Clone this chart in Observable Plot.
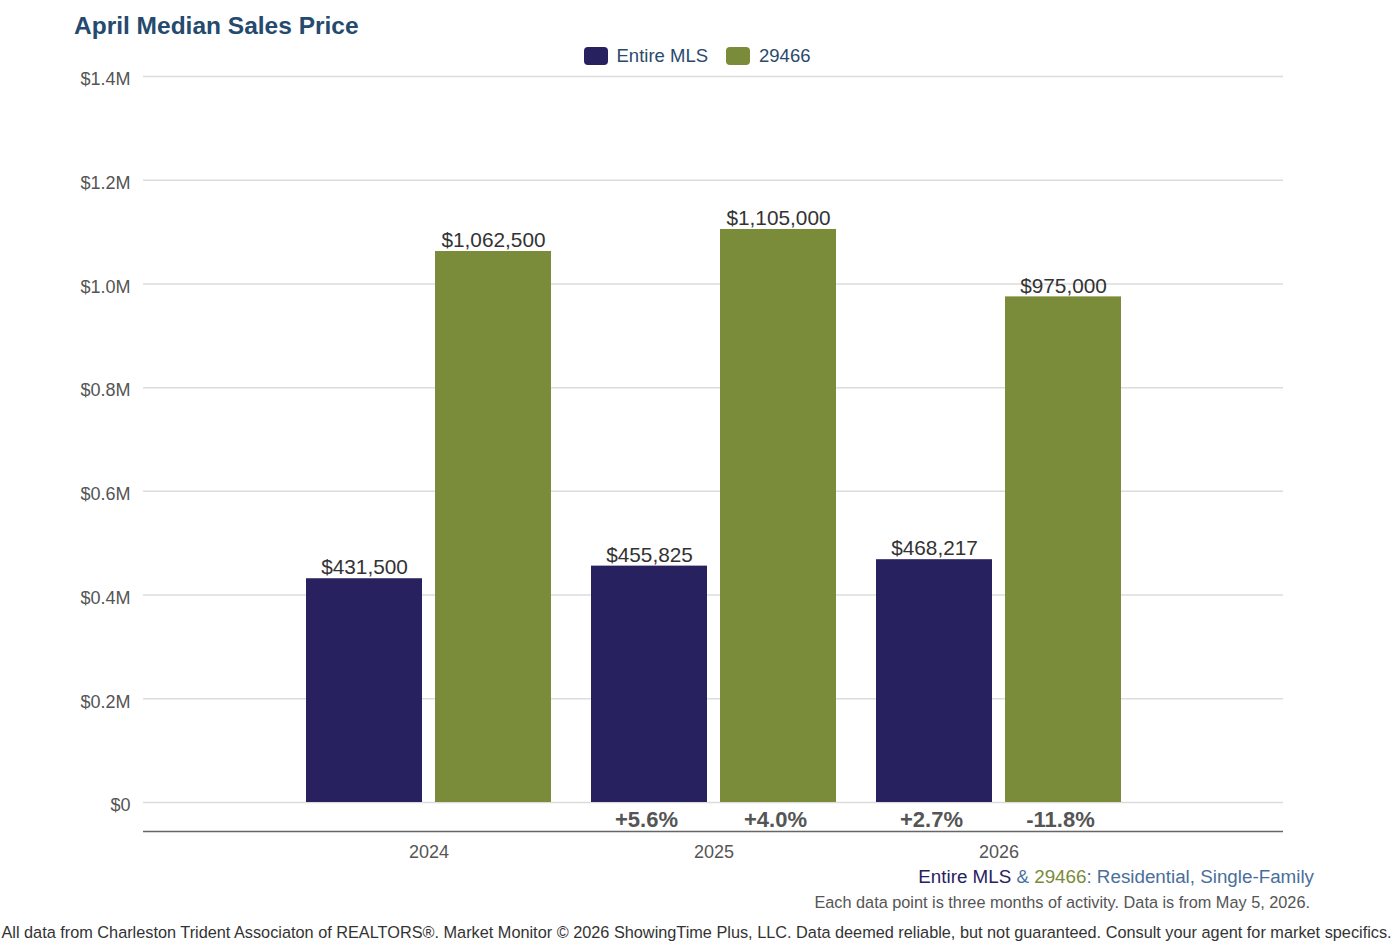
<!DOCTYPE html>
<html>
<head>
<meta charset="utf-8">
<script src="https://cdn.jsdelivr.net/npm/d3@7"></script>
<script src="https://cdn.jsdelivr.net/npm/@observablehq/plot@0.6"></script>
<style>
  html, body { margin: 0; padding: 0; background: #fff; }
  body { font-family: "Liberation Sans", Arial, Helvetica, sans-serif; }
  #page { position: relative; width: 1400px; height: 944px; overflow: hidden; }
  #chart { position: absolute; left: 0; top: 0; }
  .abs { position: absolute; line-height: 1; white-space: nowrap; }
  #title { left: 74px; top: 14px; font-size: 24.5px; font-weight: bold; color: #244a6e; }
  #legend { left: 0; top: 46px; width: 1394px; height: 20px; display: flex; justify-content: center; align-items: center; font-size: 18.5px; color: #2a4a6b; }
  #legend .item { display: flex; align-items: center; margin: 0 9px; }
  #legend .sw { width: 24px; height: 18px; border-radius: 4px; margin-right: 9px; }
  #note1 { right: 86px; top: 868px; font-size: 18.8px; color: #4a6f9a; }
  #note2 { right: 90px; top: 894px; font-size: 16.3px; color: #555; }
  #credit { left: 0; width: 1393px; top: 924px; font-size: 16.3px; color: #333; display: flex; justify-content: center; }
</style>
</head>
<body>
<div id="page">
  <div id="chart"></div>
  <div id="title" class="abs"></div>
  <div id="legend" class="abs"></div>
  <div id="note1" class="abs"></div>
  <div id="note2" class="abs"></div>
  <div id="credit" class="abs"></div>
</div>
<script>
// Median sales price for April, Entire MLS vs. ZIP 29466
const years = [2024, 2025, 2026];
const seriesNames = ["Entire MLS", "29466"];
const mlsPrice = [431500, 455825, 468217];
const zipPrice = [1062500, 1105000, 975000];
// Year-over-year change, percent
const mlsChange = [null, 5.6, 2.7];
const zipChange = [null, 4.0, -11.8];
const yTicks = [0, 200000, 400000, 600000, 800000, 1000000, 1200000, 1400000];

const navy = "#27225f";
const olive = "#7a8b3a";
const seriesColors = [navy, olive];

const titleText = "April Median Sales Price";
const subtitleText = ": Residential, Single-Family";
const noteText = "Each data point is three months of activity. Data is from May 5, 2026.";
const creditText = "All data from Charleston Trident Associaton of REALTORS®. Market Monitor © 2026 ShowingTime Plus, LLC. Data deemed reliable, but not guaranteed. Consult your agent for market specifics.";

const mls = years.map((year, i) => ({year, value: mlsPrice[i], change: mlsChange[i]}));
const zip = years.map((year, i) => ({year, value: zipPrice[i], change: zipChange[i]}));

const usd = d3.format("$,");
const pct = d => (d > 0 ? "+" : "") + d.toFixed(1) + "%";
const yFmt = d => d === 0 ? "$0" : "$" + (d / 1e6).toFixed(1) + "M";

// Each year gets one band; the two series sit side by side inside it.
const leftBar = {insetLeft: 20, insetRight: 149};
const rightBar = {insetLeft: 149, insetRight: 20};
const leftShift = -64.5, rightShift = 64.5;

const chart = Plot.plot({
  width: 1400,
  height: 870,
  marginLeft: 143,
  marginRight: 117,
  marginTop: 76,
  marginBottom: 68,
  style: {fontFamily: "'Liberation Sans', Arial, Helvetica, sans-serif", fontSize: "18px", color: "#555", background: "transparent"},
  x: {type: "band", domain: years, paddingInner: 0, paddingOuter: 0.5, label: null, tickSize: 0, tickPadding: 43, tickFormat: d => `${d}`},
  y: {domain: [0, 1400000], axis: null},
  marks: [
    Plot.ruleY(yTicks, {stroke: "#dcdcdc", strokeWidth: 1.5}),
    Plot.ruleY([0], {dy: 29, stroke: "#666", strokeWidth: 1.5}),
    Plot.text(yTicks, {y: d => d, text: yFmt, frameAnchor: "left", textAnchor: "end", dx: -13, dy: 3, fontSize: 18, fill: "#555"}),
    Plot.barY(mls, {x: "year", y: "value", fill: seriesColors[0], ...leftBar}),
    Plot.barY(zip, {x: "year", y: "value", fill: seriesColors[1], ...rightBar}),
    Plot.text(mls, {x: "year", y: "value", text: d => usd(d.value), dx: leftShift, dy: -11, fontSize: 20.8, fill: "#333"}),
    Plot.text(zip, {x: "year", y: "value", text: d => usd(d.value), dx: rightShift, dy: -11, fontSize: 20.8, fill: "#333"}),
    Plot.text(mls.filter(d => d.change != null), {x: "year", y: () => 0, text: d => pct(d.change), dx: leftShift - 3, dy: 17, fontSize: 22, fontWeight: "bold", fill: "#555"}),
    Plot.text(zip.filter(d => d.change != null), {x: "year", y: () => 0, text: d => pct(d.change), dx: rightShift - 3, dy: 17, fontSize: 22, fontWeight: "bold", fill: "#555"})
  ]
});
document.getElementById("chart").appendChild(chart);

document.getElementById("title").textContent = titleText;

const legend = document.getElementById("legend");
seriesNames.forEach((name, i) => {
  const item = document.createElement("div");
  item.className = "item";
  const sw = document.createElement("div");
  sw.className = "sw";
  sw.style.background = seriesColors[i];
  const label = document.createElement("span");
  label.textContent = name;
  item.appendChild(sw);
  item.appendChild(label);
  legend.appendChild(item);
});

const note1 = document.getElementById("note1");
const s1 = document.createElement("span"); s1.textContent = seriesNames[0]; s1.style.color = navy;
const s2 = document.createElement("span"); s2.textContent = " & ";
const s3 = document.createElement("span"); s3.textContent = seriesNames[1]; s3.style.color = olive;
const s4 = document.createElement("span"); s4.textContent = subtitleText;
[s1, s2, s3, s4].forEach(s => note1.appendChild(s));

document.getElementById("note2").textContent = noteText;
const credit = document.getElementById("credit");
const cspan = document.createElement("span");
cspan.textContent = creditText;
credit.appendChild(cspan);
</script>
</body>
</html>
